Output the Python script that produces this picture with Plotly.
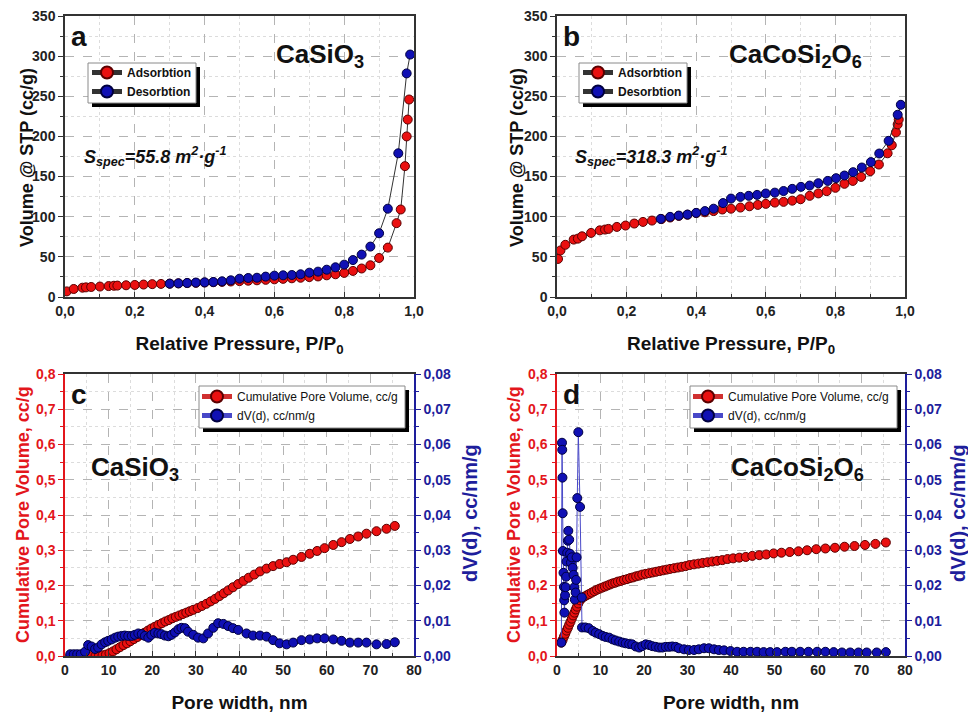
import plotly.graph_objects as go

# ---------------- data ----------------
# Panel a: CaSiO3 isotherm
a_ads_p = [0.005,0.025,0.05,0.06,0.075,0.1,0.125,0.14,0.15,0.175,0.2,0.225,0.25,0.275,0.3,0.325,0.35,0.375,0.4,0.425,0.45,0.475,0.5,0.525,0.55,0.575,0.6,0.625,0.65,0.675,0.7,0.725,0.75,0.775,0.8,0.825,0.85,0.875,0.9,0.925,0.95,0.962,0.974,0.979,0.982,0.986]
a_ads_v = [7,10,11.6,12,12.5,13,13.6,14,14.2,14.6,15,15.5,16,16.3,16.6,17,17.3,17.6,18,18.4,18.8,19.3,19.8,20.3,20.8,21.4,22,22.6,23.3,24,24.8,25.6,27,28.3,30,32.5,35.5,39.5,48.6,61.5,92,109,163,200,221,246]
a_des_p = [0.3,0.325,0.35,0.375,0.4,0.425,0.45,0.475,0.5,0.525,0.55,0.575,0.6,0.625,0.65,0.675,0.7,0.725,0.75,0.775,0.8,0.825,0.85,0.875,0.9,0.925,0.955,0.979,0.989]
a_des_v = [16.6,17,17.5,18,18.3,18.7,19.5,20.8,22.8,23.7,24,25.4,26.6,27,27.4,28.3,30.3,31.6,34,37,40.3,46,52.8,62.8,79.4,110,179,278.5,302]

# Panel b: CaCoSi2O6 isotherm
b_ads_p = [0.003,0.01,0.024,0.048,0.06,0.072,0.098,0.123,0.138,0.148,0.172,0.197,0.222,0.247,0.273,0.3,0.325,0.35,0.375,0.4,0.425,0.45,0.475,0.5,0.527,0.553,0.577,0.6,0.626,0.651,0.676,0.7,0.726,0.751,0.775,0.8,0.826,0.85,0.874,0.9,0.925,0.95,0.962,0.974,0.979,0.982]
b_ads_v = [47.4,58,65,71.5,72.7,75.6,79.8,83,84,84.8,87.3,89,91.5,93.5,95.2,97,99,101,102.5,104.5,105.5,107,109,110,111.4,113,114.7,116,117.6,118.5,120,121.8,126,129,131.8,136,141,144.6,149.6,156.7,165,179,189,205,215,221]
b_des_p = [0.298,0.325,0.35,0.375,0.4,0.425,0.45,0.477,0.5,0.527,0.551,0.575,0.6,0.626,0.651,0.676,0.701,0.726,0.751,0.778,0.802,0.826,0.851,0.876,0.902,0.926,0.953,0.979,0.988]
b_des_v = [97.3,99.8,101.4,102.7,104.8,107,110,117,122.6,124.7,126,127.2,128.9,130,132,134.7,137.2,138.8,141.7,144.6,148,151.3,155.5,161.3,168,178.7,194.5,227,239.4]

# Panel c: CaSiO3 pore distribution
c_cum_d = [1.2,2.2,3.2,4.2,5.2,6.2,7.0,7.8,8.6,9.4,10.2,11.0,11.8,12.6,13.4,14.2,15.0,15.8,16.6,17.4,18.2,19.0,19.8,20.6,21.4,22.2,23.0,23.8,24.6,25.4,26.2,27.0,27.8,28.6,29.4,30.4,31.4,32.4,33.4,34.4,35.4,36.4,37.4,38.5,39.7,40.9,42.1,43.4,44.7,46.2,47.7,49.2,50.8,52.3,54.2,56.1,57.8,59.5,61.5,63.4,65.3,67.2,69.1,71.4,73.7,75.6]
c_cum_v = [0,0,0,0,0,0,0,0.001,0.002,0.004,0.008,0.013,0.019,0.025,0.031,0.036,0.042,0.048,0.054,0.060,0.066,0.072,0.078,0.083,0.088,0.093,0.098,0.102,0.107,0.111,0.115,0.119,0.123,0.127,0.131,0.136,0.142,0.148,0.155,0.162,0.170,0.178,0.186,0.195,0.204,0.213,0.222,0.231,0.240,0.248,0.255,0.261,0.266,0.273,0.281,0.290,0.298,0.306,0.315,0.323,0.332,0.339,0.347,0.354,0.361,0.369]
c_dv_d = [1.2,2.0,2.8,3.6,4.6,5.3,6.1,6.9,7.6,8.4,9.2,9.9,10.7,11.5,12.2,13.0,13.7,14.5,15.3,16.0,16.8,17.6,18.3,19.1,19.8,20.6,21.4,22.1,22.9,23.7,24.4,25.2,26.0,26.7,27.5,28.2,29.4,30.5,31.7,32.8,34.0,35.1,36.3,37.4,38.5,39.7,41.6,43.1,44.7,46.2,47.7,49.2,50.8,52.3,54.2,56.1,57.8,59.5,61.5,63.4,65.3,67.2,69.1,71.4,73.7,75.6]
c_dv_v = [0.0005,0.0005,0.0005,0.0005,0.0012,0.0031,0.0027,0.0020,0.0024,0.0033,0.0039,0.0043,0.0047,0.0052,0.0055,0.0057,0.0058,0.0057,0.0057,0.0060,0.0064,0.0062,0.0057,0.0052,0.0060,0.0066,0.0064,0.0062,0.0058,0.0056,0.0060,0.0067,0.0076,0.0080,0.0079,0.0069,0.0060,0.0052,0.0050,0.0064,0.0080,0.0093,0.0091,0.0085,0.0079,0.0074,0.0064,0.0058,0.0058,0.0055,0.0045,0.0036,0.0033,0.0038,0.0045,0.0047,0.0050,0.0050,0.0047,0.0043,0.0038,0.0038,0.0038,0.0033,0.0034,0.0039]

# Panel d: CaCoSi2O6 pore distribution
d_cum_d = [1.0,1.3,1.6,1.9,2.2,2.5,2.8,3.1,3.4,3.7,4.0,4.3,4.6,4.9,5.3,5.7,6.2,6.8,7.4,8.0,8.6,9.2,9.8,10.4,11.0,11.6,12.2,12.8,13.4,14.0,14.7,15.4,16.1,16.8,17.5,18.2,18.9,19.6,20.4,21.2,22.0,22.8,23.6,24.4,25.2,26.0,26.9,27.8,28.7,29.6,30.5,31.5,32.5,33.5,34.6,35.7,36.8,38.0,39.2,40.5,41.9,43.4,44.9,46.5,48.1,49.8,51.6,53.5,55.5,57.5,59.6,61.7,63.9,66.1,68.4,70.8,73.2,75.6]
d_cum_v = [0.038,0.046,0.055,0.063,0.072,0.080,0.089,0.097,0.106,0.115,0.123,0.132,0.140,0.149,0.158,0.164,0.168,0.172,0.176,0.180,0.184,0.188,0.191,0.194,0.197,0.200,0.203,0.206,0.208,0.211,0.213,0.216,0.218,0.221,0.223,0.226,0.228,0.231,0.233,0.235,0.237,0.239,0.241,0.243,0.245,0.247,0.249,0.251,0.253,0.255,0.258,0.260,0.262,0.264,0.266,0.268,0.270,0.272,0.275,0.277,0.279,0.281,0.284,0.286,0.288,0.291,0.293,0.295,0.297,0.300,0.303,0.305,0.307,0.310,0.312,0.315,0.318,0.322]
d_dv_d = [1.0,1.15,1.2,1.25,1.3,1.35,1.5,1.6,1.65,1.7,1.85,2.0,2.1,2.2,2.35,2.5,2.6,2.8,3.0,3.2,3.4,3.6,3.8,4.0,4.1,4.3,4.4,4.5,4.66,4.9,5.3,5.7,5.75,6.5,7.3,8.2,8.9,9.7,
          10.5,11.2,12.0,12.8,13.5,14.3,15.1,15.8,16.6,17.3,18.1,18.9,19.6,20.4,21.2,21.9,22.7,23.5,24.2,25.0,25.8,26.5,27.3,28.0,29.2,30.3,31.5,32.6,33.8,34.9,36.1,37.2,38.4,39.9,41.4,42.9,44.5,46.0,47.5,49.0,50.6,52.5,54.0,55.9,57.8,59.8,61.7,63.6,65.5,67.4,69.3,71.2,73.5,75.6]
d_dv_v = [0.0038,0.0605,0.0585,0.0506,0.0405,0.0298,0.0236,0.0196,0.0158,0.0123,0.0172,0.0195,0.0225,0.0268,0.0293,0.0327,0.0355,0.0330,0.0290,0.0265,0.0280,0.0250,0.0230,0.0195,0.0160,0.0180,0.0216,0.0280,0.0448,0.0635,0.0423,0.0166,0.0081,0.0081,0.0079,0.0071,0.0066,0.0062,
          0.0057,0.0054,0.0052,0.0047,0.0044,0.0041,0.0038,0.0036,0.0034,0.0033,0.0027,0.0024,0.0028,0.0033,0.0031,0.0028,0.0026,0.0024,0.0024,0.0026,0.0026,0.0027,0.0026,0.0022,0.0019,0.0017,0.0017,0.0019,0.0022,0.0022,0.0019,0.0017,0.0016,0.0014,0.0012,0.0012,0.0012,0.0012,0.0011,0.0011,0.0011,0.0012,0.0012,0.0012,0.0012,0.0012,0.0012,0.0011,0.0010,0.0010,0.0010,0.0010,0.0010,0.0011]

iso_names = ["Adsorbtion", "Desorbtion"]
psd_names = ["Cumulative Pore Volume, cc/g", "dV(d), cc/nm/g"]

# ---------------- style ----------------
FONT = "Liberation Sans, Arial, sans-serif"
RED = "#ea1010"
RED_EDGE = "#5a0000"
BLUE = "#1010b4"
BLUE_EDGE = "#000040"
RED_TXT = "#e3161c"
BLUE_TXT = "#1e1e9c"
W, H = 968, 717

def px(x):
    return x / W

def py(y):
    return 1 - y / H

dom_x_left = [px(65), px(414)]
dom_x_right = [px(557), px(905)]
dom_y_top = [py(297), py(16)]
dom_y_bot = [py(656), py(374)]

fig = go.Figure()

def iso_traces(p_ads, v_ads, p_des, v_des, xa, ya, leg):
    fig.add_trace(go.Scatter(x=p_ads, y=v_ads, mode="lines+markers", name=iso_names[0],
                             xaxis=xa, yaxis=ya, legend=leg,
                             line=dict(color="#333333", width=1),
                             marker=dict(size=9, color=RED, line=dict(color=RED_EDGE, width=1))))
    fig.add_trace(go.Scatter(x=p_des, y=v_des, mode="lines+markers", name=iso_names[1],
                             xaxis=xa, yaxis=ya, legend=leg,
                             line=dict(color="#333333", width=1),
                             marker=dict(size=9, color=BLUE, line=dict(color=BLUE_EDGE, width=1))))

def psd_traces(d1, v1, d2, v2, xa, ya, ya2, leg):
    fig.add_trace(go.Scatter(x=d1, y=v1, mode="lines+markers", name=psd_names[0],
                             xaxis=xa, yaxis=ya, legend=leg,
                             line=dict(color="#d03030", width=1),
                             marker=dict(size=9, color=RED, line=dict(color=RED_EDGE, width=1))))
    fig.add_trace(go.Scatter(x=d2, y=v2, mode="lines+markers", name=psd_names[1],
                             xaxis=xa, yaxis=ya2, legend=leg,
                             line=dict(color="#4848c8", width=1),
                             marker=dict(size=9, color=BLUE, line=dict(color=BLUE_EDGE, width=1))))

iso_traces(a_ads_p, a_ads_v, a_des_p, a_des_v, "x", "y", "legend")
iso_traces(b_ads_p, b_ads_v, b_des_p, b_des_v, "x2", "y2", "legend2")
psd_traces(c_cum_d, c_cum_v, c_dv_d, c_dv_v, "x3", "y3", "y5", "legend3")
psd_traces(d_cum_d, d_cum_v, d_dv_d, d_dv_v, "x4", "y4", "y6", "legend4")

tickfont = dict(family=FONT, size=14, color="#222222", weight="bold")
titlefont = dict(family=FONT, size=19, color="#111111", weight="bold")

def grid_minor(dt, ticks="outside"):
    return dict(dtick=dt, showgrid=True, gridcolor="#dcdcdc", griddash="dot", gridwidth=1,
                ticks=ticks, ticklen=3, tickcolor="#333333")

def xaxis(dom, anchor, rng, dt, mdt, fmt, title):
    return dict(domain=dom, anchor=anchor, range=rng, dtick=dt, tick0=0, tickformat=fmt,
                showline=True, linecolor="#333333", linewidth=1.5, mirror=True,
                ticks="inside", ticklen=5, tickwidth=1, tickcolor="#333333",
                showgrid=True, gridcolor="#b4b4b4", griddash="dash", gridwidth=1,
                minor=grid_minor(mdt, "inside"), zeroline=False, automargin=False,
                tickfont=tickfont,
                title=dict(text=title, font=titlefont, standoff=19))

def yaxis(dom, anchor, rng, dt, mdt, fmt, color_line="#333333", tcol="#222222", mirror=True):
    tf = dict(tickfont)
    tf["color"] = tcol
    return dict(domain=dom, anchor=anchor, range=rng, dtick=dt, tick0=0, tickformat=fmt,
                showline=True, linecolor=color_line, linewidth=1.5, mirror=mirror,
                ticks="outside", ticklen=5, tickwidth=1, tickcolor=color_line,
                showgrid=True, gridcolor="#b4b4b4", griddash="dash", gridwidth=1,
                minor=dict(grid_minor(mdt), tickcolor=color_line), zeroline=False, automargin=False,
                tickfont=tf)

def yright(overlay, anchor):
    tf = dict(tickfont)
    tf["color"] = BLUE_TXT
    return dict(overlaying=overlay, anchor=anchor, side="right", range=[0, 0.08], dtick=0.01,
                tick0=0, tickformat=".2f",
                showline=True, linecolor=BLUE_TXT, linewidth=1.5,
                ticks="outside", ticklen=5, tickwidth=1, tickcolor=BLUE_TXT,
                minor=dict(dtick=0.005, ticks="outside", ticklen=3, tickcolor=BLUE_TXT, showgrid=False),
                showgrid=False, zeroline=False, automargin=False, tickfont=tf)

xt_iso = "Relative Pressure, P/P<sub>0</sub>"
yt_iso = "Volume @ STP (cc/g)"
xt_psd = "Pore width, nm"
yt_psd = "Cumulative Pore Volume, cc/g"
yt_psd2 = "dV(d), cc/nm/g"

legend_iso = dict(bgcolor="rgba(0,0,0,0)", borderwidth=0,
                  font=dict(family=FONT, size=12, color="#111111", weight="bold"),
                  xanchor="left", yanchor="top", tracegroupgap=0, itemwidth=30,
                  itemsizing="constant")
legend_psd = dict(legend_iso)
legend_psd["font"] = dict(family=FONT, size=12, color="#111111")

fig.update_layout(
    width=W, height=H,
    margin=dict(l=0, r=0, t=0, b=0),
    paper_bgcolor="white", plot_bgcolor="white",
    separators=", ",
    font=dict(family=FONT),
    xaxis=xaxis(dom_x_left, "y", [0, 1], 0.2, 0.1, ".1f", xt_iso),
    yaxis=yaxis(dom_y_top, "x", [0, 350], 50, 25, "d"),
    xaxis2=xaxis(dom_x_right, "y2", [0, 1], 0.2, 0.1, ".1f", xt_iso),
    yaxis2=yaxis(dom_y_top, "x2", [0, 350], 50, 25, "d"),
    xaxis3=xaxis(dom_x_left, "y3", [0, 80], 10, 5, "d", xt_psd),
    yaxis3=yaxis(dom_y_bot, "x3", [0, 0.8], 0.1, 0.05, ".1f", color_line=RED_TXT,
                 tcol=RED_TXT, mirror=False),
    xaxis4=xaxis(dom_x_right, "y4", [0, 80], 10, 5, "d", xt_psd),
    yaxis4=yaxis(dom_y_bot, "x4", [0, 0.8], 0.1, 0.05, ".1f", color_line=RED_TXT,
                 tcol=RED_TXT, mirror=False),
    yaxis5=yright("y3", "x3"),
    yaxis6=yright("y4", "x4"),
    legend=dict(legend_iso, x=px(87), y=py(58)),
    legend2=dict(legend_iso, x=px(578), y=py(58)),
    legend3=dict(legend_psd, x=px(197), y=py(382)),
    legend4=dict(legend_psd, x=px(688), y=py(382)),
    showlegend=True,
)

# legend frames with drop shadow: (x0, y0, x1, y1) of the white frame in pixels
frames = [(88, 63, 196, 103), (579, 63, 687, 103), (199, 386, 405, 428), (690, 386, 897, 428)]
for (x0, y0, x1, y1) in frames:
    fig.add_shape(type="rect", xref="paper", yref="paper",
                  x0=px(x0 + 4), x1=px(x1 + 4), y0=py(y0 + 4), y1=py(y1 + 4),
                  fillcolor="black", line=dict(width=0), layer="above")
    fig.add_shape(type="rect", xref="paper", yref="paper",
                  x0=px(x0), x1=px(x1), y0=py(y0), y1=py(y1),
                  fillcolor="white", line=dict(width=1, color="#8a8a8a"), layer="above")

ann_font_big = dict(family=FONT, size=26, color="#111111", weight="bold")
ann_font_lbl = dict(family=FONT, size=28, color="#111111", weight="bold")
ann_font_s = dict(family=FONT, size=18, color="#111111", weight="bold", style="italic")
ytf = dict(family=FONT, size=18, color="#111111", weight="bold")
ytf_red = dict(family=FONT, size=18, color=RED_TXT, weight="bold")
ytf_blue = dict(family=FONT, size=20, color=BLUE_TXT, weight="bold")
annots = [
    ("a", 79, 36, ann_font_lbl, 0), ("b", 571, 36, ann_font_lbl, 0),
    ("c", 79, 394, ann_font_lbl, 0), ("d", 571, 394, ann_font_lbl, 0),
    ("CaSiO<sub>3</sub>", 320, 55, ann_font_big, 0),
    ("CaCoSi<sub>2</sub>O<sub>6</sub>", 795, 55, ann_font_big, 0),
    ("CaSiO<sub>3</sub>", 135, 468, ann_font_big, 0),
    ("CaCoSi<sub>2</sub>O<sub>6</sub>", 797, 468, ann_font_big, 0),
    ("S<sub>spec</sub>=55.8 m<sup>2</sup>·g<sup>-1</sup>", 155, 157, ann_font_s, 0),
    ("S<sub>spec</sub>=318.3 m<sup>2</sup>·g<sup>-1</sup>", 651, 157, ann_font_s, 0),
    (yt_iso, 27, 158, ytf, -90), (yt_iso, 517, 158, ytf, -90),
    (yt_psd, 23, 515, ytf_red, -90), (yt_psd, 514, 515, ytf_red, -90),
    (yt_psd2, 470, 513, ytf_blue, -90), (yt_psd2, 958, 513, ytf_blue, -90),
]
for text, x, y, f, ang in annots:
    fig.add_annotation(text=text, x=px(x), y=py(y), xref="paper", yref="paper",
                       showarrow=False, xanchor="center", yanchor="middle", font=f,
                       textangle=ang)

fig.write_html("out.html")
